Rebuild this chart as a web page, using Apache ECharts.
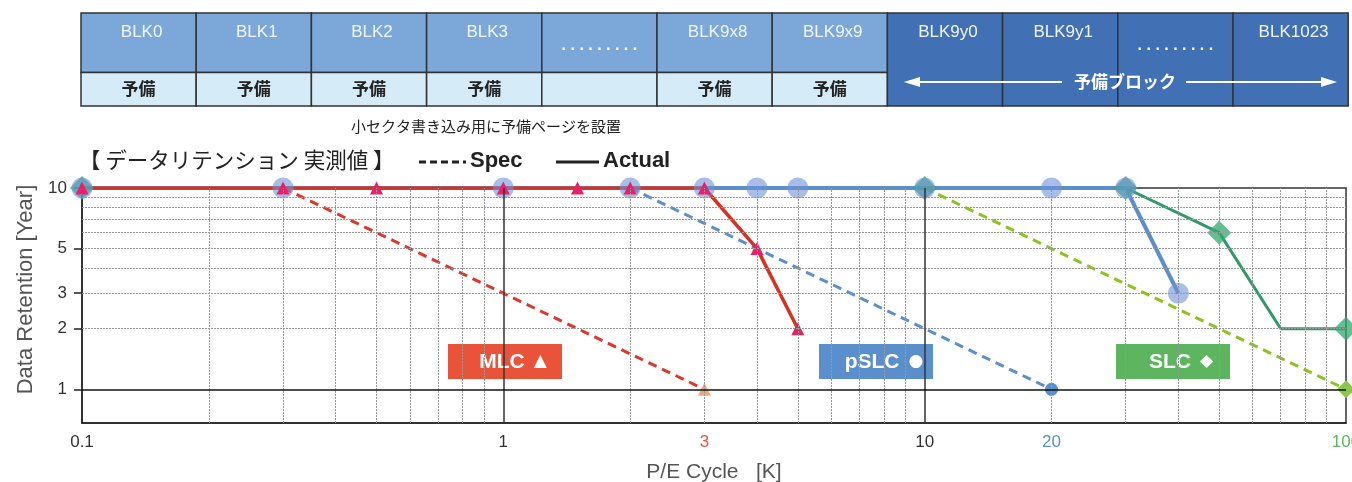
<!DOCTYPE html>
<html>
<head>
<meta charset="utf-8">
<script src="https://cdn.jsdelivr.net/npm/echarts@6/dist/echarts.min.js"></script>
<style>
html, body { margin: 0; padding: 0; background: #fff; }
#chart { width: 1352px; height: 482px; }
</style>
</head>
<body>
<div id="chart"></div>
<script>
// block map above the chart
var blockNames = ['BLK0', 'BLK1', 'BLK2', 'BLK3', '', 'BLK9x8', 'BLK9x9', 'BLK9y0', 'BLK9y1', '', 'BLK1023'];
var spareRow = ['予備', '予備', '予備', '予備', '', '予備', '予備'];

// axes
var xTicks = [0.1, 1, 3, 10, 20, 100];
var yTicks = [1, 2, 3, 5, 10];
var xGridMinor = [0.2, 0.3, 0.4, 0.5, 0.6, 0.7, 0.8, 0.9, 2, 3, 4, 5, 6, 7, 8, 9, 20, 30, 40, 50, 60, 70, 80, 90];
var xGridMajor = [1, 10];
var yGridMinor = [2, 3, 4, 5, 6, 7, 8, 9];
var yGridMajor = [1];

// P/E cycle [K], retention [year]
var mlcActual = [[0.1, 10], [0.3, 10], [0.5, 10], [1, 10], [1.5, 10], [2, 10], [3, 10], [4, 5], [5, 2]];
var pslcActual = [[0.1, 10], [0.3, 10], [1, 10], [2, 10], [3, 10], [4, 10], [5, 10], [10, 10], [20, 10], [30, 10], [40, 3]];
var slcActual = [[0.1, 10], [10, 10], [30, 10], [50, 6], [70, 2], [100, 2]];
var mlcSpec = [[0.3, 10], [3, 1]];
var pslcSpec = [[2, 10], [20, 1]];
var slcSpec = [[10, 10], [100, 1]];
var slcNoMarker = [70];

var chart = echarts.init(document.getElementById('chart'));

var JP = '"Noto Sans CJK JP", sans-serif';
var AR = '"Liberation Sans", Arial, sans-serif';

function specData (arr) {
  return arr.map(function (p, i) {
    return i === arr.length - 1 ? p : { value: p, symbol: 'none' };
  });
}

function tickColor (v) {
  if (v === 3) return 'r';
  if (v === 20) return 'b';
  if (v === 100) return 'g';
  return 'k';
}

// top table graphics
var cellW = 115.2, tblLeft = 81, tblTop = 13, tblMid = 72.5, tblBottom = 106;
var graphics = [];
blockNames.forEach(function (name, i) {
  var x = tblLeft + i * cellW;
  if (i < 7) {
    graphics.push({ type: 'rect', shape: { x: x, y: tblTop, width: cellW, height: tblMid - tblTop }, style: { fill: '#7ba7d9', stroke: '#333', lineWidth: 1.5 } });
    graphics.push({ type: 'rect', shape: { x: x, y: tblMid, width: cellW, height: tblBottom - tblMid }, style: { fill: '#d5ebf8', stroke: '#333', lineWidth: 1.5 } });
    if (spareRow[i]) {
      graphics.push({ type: 'text', x: x + cellW / 2, y: 89, style: { text: spareRow[i], fill: '#222', font: 'bold 17px ' + JP, textAlign: 'center', textVerticalAlign: 'middle' } });
    }
  } else {
    graphics.push({ type: 'rect', shape: { x: x, y: tblTop, width: cellW, height: tblBottom - tblTop }, style: { fill: '#4170b4', stroke: '#333', lineWidth: 1.5 } });
  }
  if (name) {
    graphics.push({ type: 'text', x: x + cellW / 2 + 3, y: 32, style: { text: name, fill: '#f2f6fb', font: '17px ' + AR, textAlign: 'center', textVerticalAlign: 'middle' } });
  } else {
    graphics.push({ type: 'text', x: x + cellW / 2, y: 46, style: { text: '. . . . . . . . .', fill: '#fff', font: 'bold 16px ' + AR, textAlign: 'center', textVerticalAlign: 'middle' } });
  }
});
// 予備ブロック arrow
graphics.push({ type: 'line', shape: { x1: 910, y1: 82, x2: 1062, y2: 82 }, style: { stroke: '#fff', lineWidth: 2 } });
graphics.push({ type: 'line', shape: { x1: 1186, y1: 82, x2: 1330, y2: 82 }, style: { stroke: '#fff', lineWidth: 2 } });
graphics.push({ type: 'polygon', shape: { points: [[904, 82], [920, 77], [920, 87]] }, style: { fill: '#fff' } });
graphics.push({ type: 'polygon', shape: { points: [[1337, 82], [1321, 77], [1321, 87]] }, style: { fill: '#fff' } });
graphics.push({ type: 'text', x: 1125, y: 82, style: { text: '予備ブロック', fill: '#fff', font: 'bold 17px ' + JP, textAlign: 'center', textVerticalAlign: 'middle' } });
graphics.push({ type: 'text', x: 486, y: 126, style: { text: '小セクタ書き込み用に予備ページを設置', fill: '#222', font: '15px ' + JP, textAlign: 'center', textVerticalAlign: 'middle' } });

// legend row
graphics.push({ type: 'text', x: 79, y: 160, style: { text: '【 データリテンション 実測値 】', fill: '#222', font: '21.5px ' + JP, textVerticalAlign: 'middle' } });
graphics.push({ type: 'line', shape: { x1: 419, y1: 162, x2: 466, y2: 162 }, style: { stroke: '#222', lineWidth: 3, lineDash: [7, 4] } });
graphics.push({ type: 'text', x: 470, y: 161, style: { text: 'Spec', fill: '#222', font: 'bold 22px ' + AR, textVerticalAlign: 'middle' } });
graphics.push({ type: 'line', shape: { x1: 556, y1: 162, x2: 599, y2: 162 }, style: { stroke: '#222', lineWidth: 3 } });
graphics.push({ type: 'text', x: 603, y: 161, style: { text: 'Actual', fill: '#222', font: 'bold 22px ' + AR, textVerticalAlign: 'middle' } });

// series tags
[
  { x: 448, fill: '#e8533a', name: 'MLC', sym: '▲' },
  { x: 819, fill: '#5b8fcb', name: 'pSLC', sym: '●' },
  { x: 1116, fill: '#5db65f', name: 'SLC', sym: '◆' }
].forEach(function (t) {
  graphics.push({ type: 'rect', shape: { x: t.x, y: 344, width: 114, height: 35 }, style: { fill: t.fill } });
  graphics.push({ type: 'text', x: t.x + 65, y: 362, style: { text: '{n|' + t.name + '}{s|' + t.sym + '}', fill: '#fff', textAlign: 'center', textVerticalAlign: 'middle',
    rich: { n: { font: 'bold 21px ' + AR, fill: '#fff' }, s: { font: '17px "DejaVu Sans"', fill: '#fff', padding: [0, 0, 0, 9] } } } });
});

function vLines (vals, style) {
  return vals.map(function (v) { return { xAxis: v, lineStyle: style }; });
}
function hLines (vals, style) {
  return vals.map(function (v) { return { yAxis: v, lineStyle: style }; });
}
var minorStyle = { color: '#999', width: 1, type: [2, 1] };
var majorStyle = { color: '#333', width: 1.5, type: 'solid' };

chart.setOption({
  animation: false,
  graphic: graphics,
  grid: { left: 82, right: 6, top: 188, bottom: 59, show: true, borderColor: '#333', borderWidth: 1.5, outerBoundsMode: 'none', containLabel: false },
  xAxis: {
    type: 'log', logBase: 10, min: 0.1, max: 100,
    name: 'P/E Cycle   [K]', nameLocation: 'middle', nameGap: 39,
    nameTextStyle: { color: '#555', fontSize: 21, fontFamily: AR },
    axisLine: { lineStyle: { color: '#222', width: 1.5 } },
    axisTick: { show: false },
    splitLine: { show: false },
    axisLabel: {
      customValues: xTicks, margin: 11, fontFamily: AR, fontSize: 17,
      formatter: function (v) { return '{' + tickColor(v) + '|' + v + '}'; },
      rich: { k: { color: '#333', fontSize: 17 }, r: { color: '#e8533a', fontSize: 17 }, b: { color: '#5b8fcb', fontSize: 17 }, g: { color: '#5db65f', fontSize: 17 } }
    }
  },
  yAxis: {
    type: 'log', logBase: 10, min: 0.68, max: 10,
    name: 'Data Retention [Year]', nameLocation: 'middle', nameGap: 40,
    nameTextStyle: { color: '#555', fontSize: 22, fontFamily: AR, padding: [0, 0, 0, 32] },
    axisLine: { show: true, lineStyle: { color: '#222', width: 1.5 } },
    axisTick: { show: true, customValues: yTicks, length: 8, lineStyle: { color: '#222', width: 1.5 } },
    splitLine: { show: false },
    axisLabel: { customValues: yTicks, margin: 15, color: '#333', fontSize: 17, fontFamily: AR }
  },
  series: [
    {
      type: 'line', data: [], silent: true,
      markLine: {
        silent: true, symbol: ['none', 'none'], label: { show: false },
        data: vLines(xGridMinor, minorStyle).concat(hLines(yGridMinor, minorStyle), vLines(xGridMajor, majorStyle), hLines(yGridMajor, { color: '#111', width: 1.5, type: 'solid' }))
      }
    },
    { name: 'MLC Spec', type: 'line', data: specData(mlcSpec), symbol: 'triangle', symbolSize: 13,
      lineStyle: { color: '#e0352a', width: 3, type: [9, 6] }, itemStyle: { color: '#f4a57c' } },
    { name: 'pSLC Spec', type: 'line', data: specData(pslcSpec), symbol: 'circle', symbolSize: 13,
      lineStyle: { color: '#5b8fcb', width: 3, type: [9, 6] }, itemStyle: { color: '#5b8fcb' } },
    { name: 'SLC Spec', type: 'line', data: specData(slcSpec), symbol: 'diamond', symbolSize: 18,
      lineStyle: { color: '#8dc21f', width: 3, type: [9, 6] }, itemStyle: { color: '#8cc54a' } },
    { name: 'SLC', type: 'line', symbol: 'diamond', symbolSize: 24,
      data: slcActual.map(function (p) { return slcNoMarker.indexOf(p[0]) >= 0 ? { value: p, symbol: 'none' } : p; }),
      lineStyle: { color: '#2e9a6b', width: 3 }, itemStyle: { color: 'rgba(52,168,110,0.75)' } },
    { name: 'pSLC', type: 'line', symbol: 'circle', symbolSize: 21, data: pslcActual,
      lineStyle: { color: '#5b8fcb', width: 4 }, itemStyle: { color: 'rgba(110,145,215,0.6)' } },
    { name: 'MLC', type: 'line', symbol: 'triangle', symbolSize: 13, data: mlcActual,
      lineStyle: { color: '#d9301f', width: 3.5 }, itemStyle: { color: '#e8206a' } }
  ]
});
</script>
</body>
</html>
